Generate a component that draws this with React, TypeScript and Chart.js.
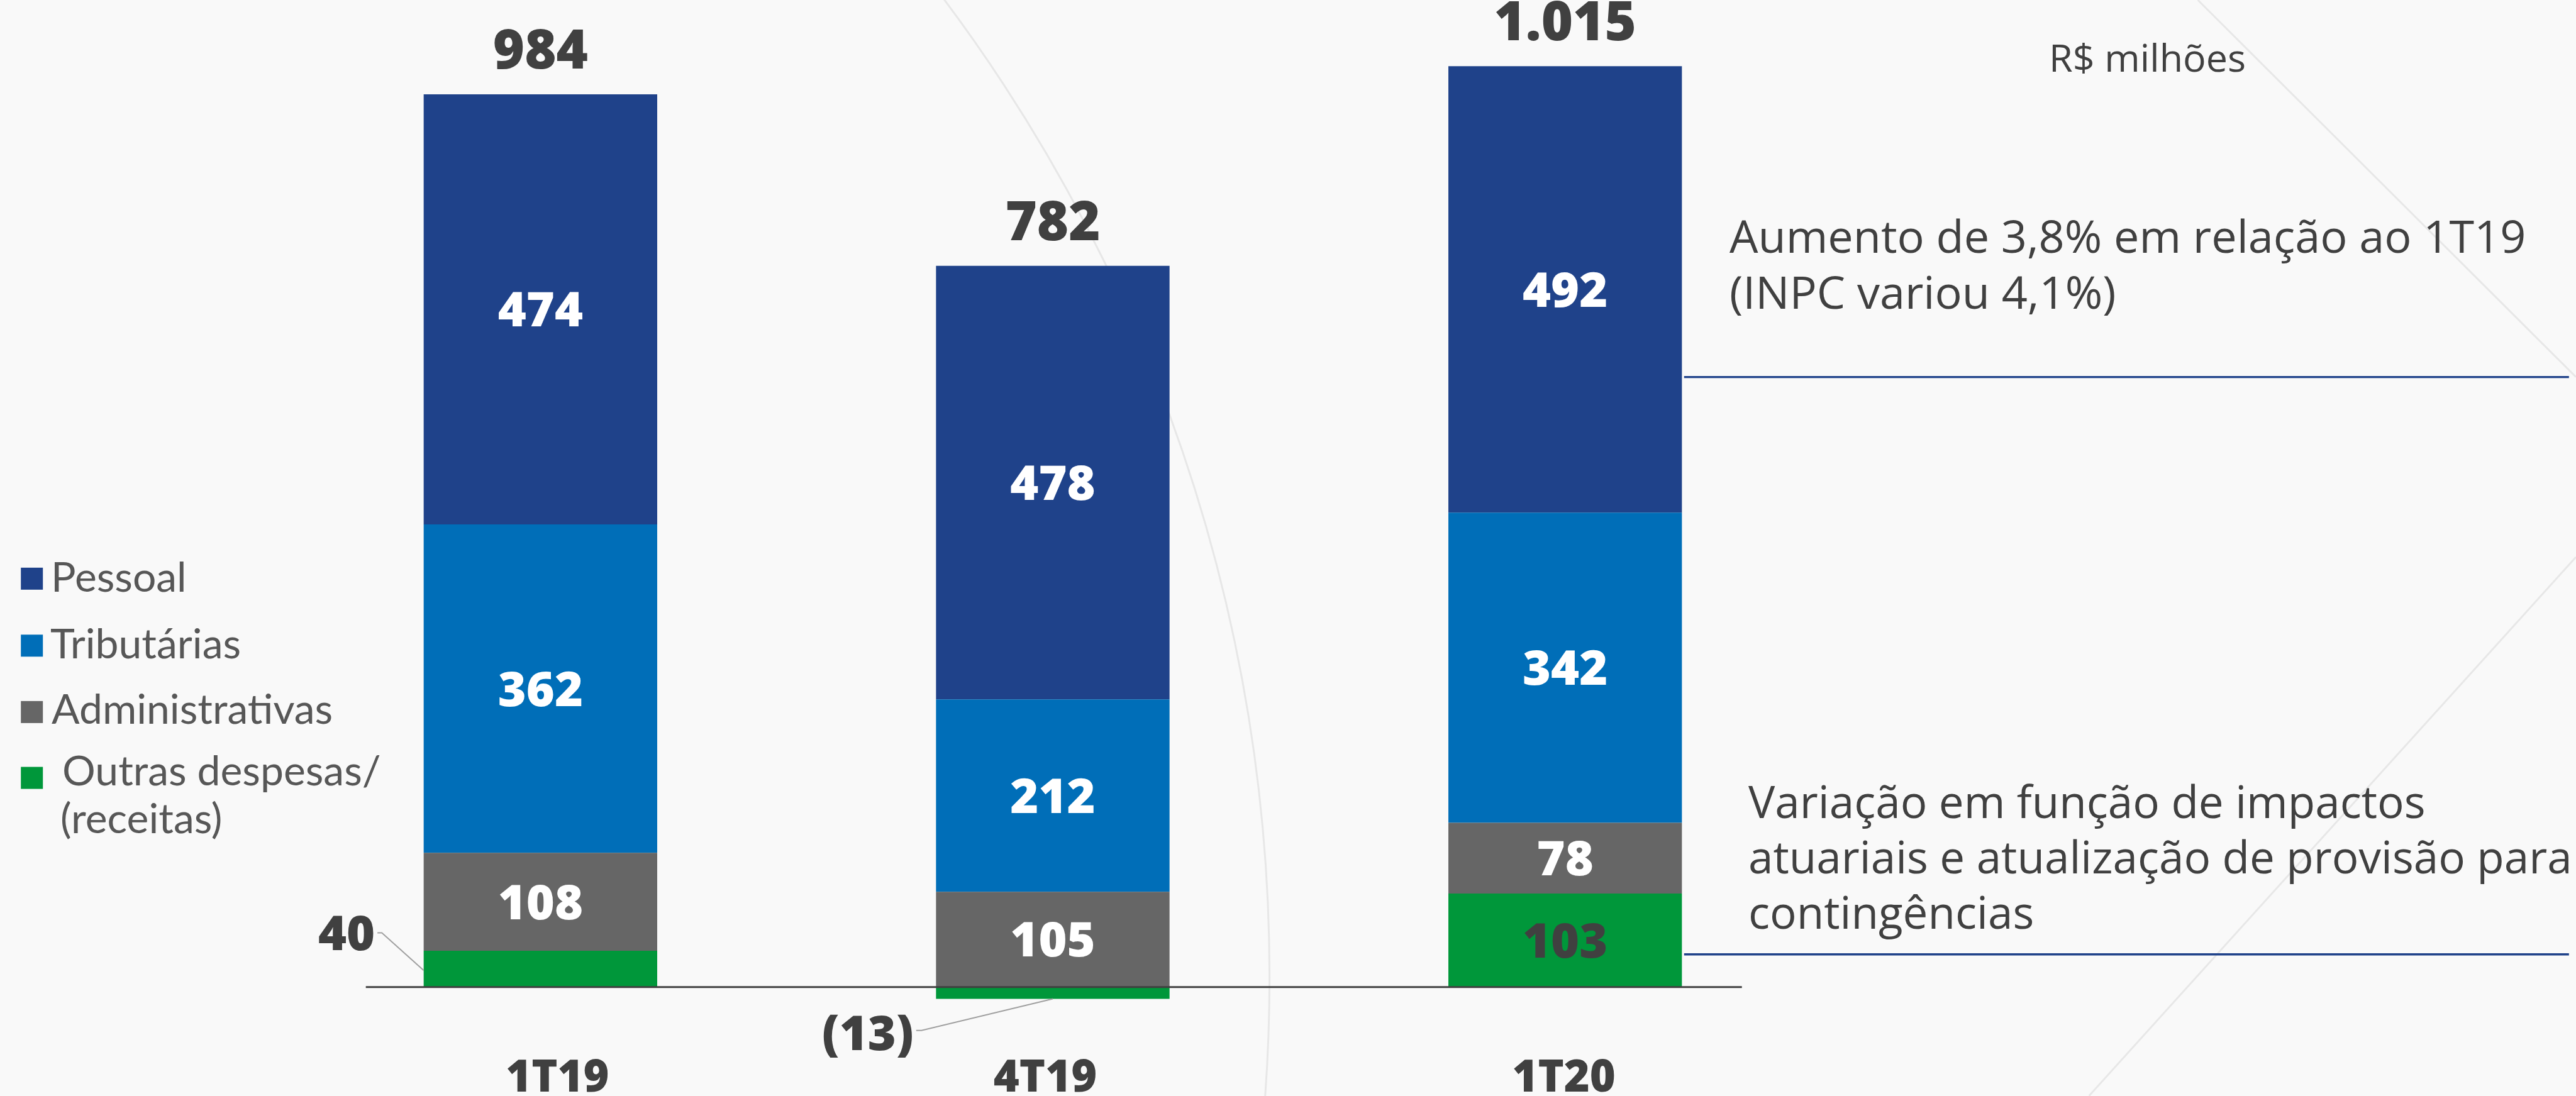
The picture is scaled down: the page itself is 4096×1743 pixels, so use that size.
import React, { useEffect, useRef } from "react";
import { Chart, registerables } from "chart.js";

Chart.register(...registerables);

// ---------- data ----------
const categories = ["1T19", "4T19", "1T20"];
const pessoal = [474, 478, 492];
const tributarias = [362, 212, 342];
const administrativas = [108, 105, 78];
const outras = [40, -13, 103];

const seriesNames = ["Outras despesas/ (receitas)", "Administrativas", "Tributárias", "Pessoal"];
const legendLines = [["Pessoal"], ["Tributárias"], ["Administrativas"], ["Outras despesas/", "(receitas)"]];
const unitLabel = "R$ milhões";
const note1 = ["Aumento de 3,8% em relação ao 1T19", "(INPC variou 4,1%)"];
const note2 = ["Variação em função de impactos", "atuariais e atualização de provisão para", "contingências"];

// ---------- styling ----------
const W = 4096;
const H = 1743;
const S = 4096 / 4809; // reference -> output
const NAVY = "#1F428A";
const BLUE = "#006EB8";
const GRAY = "#666666";
const GREEN = "#00973A";
const DARK = "#404040";
const BG = "#F9F9F9";
const BOLD = '"Open Sans", "Liberation Sans", Arial, sans-serif';
const CAT_LABEL_DX = [27, -12, -2]; // small horizontal nudges of category captions (px)

const fmt = (v: number) => {
  const s = String(Math.abs(v)).replace(/\B(?=(\d{3})+(?!\d))/g, ".");
  return v < 0 ? `(${s})` : s;
};

const backgroundPlugin = {
  id: "bgDeco",
  beforeDraw(chart: any) {
    const ctx = chart.ctx;
    ctx.save();
    ctx.fillStyle = BG;
    ctx.fillRect(0, 0, chart.width, chart.height);
    ctx.strokeStyle = "rgba(0,0,0,0.07)";
    ctx.lineWidth = 3;
    ctx.beginPath();
    ctx.arc(-675 * S, 1824 * S, 3045 * S, 0, Math.PI * 2);
    ctx.stroke();
    ctx.beginPath();
    ctx.moveTo(4103 * S, 0);
    ctx.lineTo(4809 * S, 704 * S);
    ctx.stroke();
    ctx.beginPath();
    ctx.moveTo(4809 * S, 1040 * S);
    ctx.lineTo(3900 * S, 2046 * S);
    ctx.stroke();
    ctx.restore();
  },
};

const labelsPlugin = {
  id: "labelsDeco",
  afterDatasetsDraw(chart: any) {
    const ctx = chart.ctx;
    const xs = chart.scales.x;
    const ys = chart.scales.y;
    ctx.save();

    // segment labels
    const segSize = 77;
    chart.data.datasets.forEach((ds: any, di: number) => {
      const meta = chart.getDatasetMeta(di);
      meta.data.forEach((bar: any, i: number) => {
        const v = ds.data[i] as number;
        const p = bar.getProps(["x", "y", "base", "width"], true);
        const h = Math.abs(p.base - p.y);
        const text = fmt(v);
        ctx.font = `800 ${segSize}px ${BOLD}`;
        if (h >= 80) {
          ctx.fillStyle = ds.labelColor;
          ctx.textAlign = "center";
          ctx.textBaseline = "alphabetic";
          const cy = (p.y + p.base) / 2;
          ctx.fillText(text, p.x, cy + segSize * 0.357);
        } else if (v > 0) {
          const ex = p.x - p.width / 2;
          const ey = p.y + 0.54 * h;
          const right = ex - 77.5;
          const cy = ey - 59.6;
          ctx.fillStyle = DARK;
          ctx.textAlign = "right";
          ctx.textBaseline = "alphabetic";
          ctx.fillText(text, right, cy + segSize * 0.357);
          ctx.strokeStyle = "#A0A0A0";
          ctx.lineWidth = 2;
          ctx.beginPath();
          ctx.moveTo(right + 4, cy);
          ctx.lineTo(right + 11, cy);
          ctx.lineTo(ex, ey);
          ctx.stroke();
        } else {
          const ex = p.x;
          const ey = p.y;
          const right = ex - 221.4;
          const cy = ey + 54.5;
          ctx.fillStyle = DARK;
          ctx.textAlign = "right";
          ctx.textBaseline = "alphabetic";
          ctx.fillText(text, right, cy + segSize * 0.357);
          ctx.strokeStyle = "#A0A0A0";
          ctx.lineWidth = 2;
          ctx.beginPath();
          ctx.moveTo(ex - 217.2, ey + 50.3);
          ctx.lineTo(ex - 208.7, ey + 50.3);
          ctx.lineTo(ex, ey);
          ctx.stroke();
        }
      });
    });

    // totals
    const totSize = 86;
    categories.forEach((c, i) => {
      const vals = chart.data.datasets.map((d: any) => d.data[i] as number);
      const total = vals.reduce((a: number, b: number) => a + b, 0);
      const pos = vals.filter((v: number) => v > 0).reduce((a: number, b: number) => a + b, 0);
      const top = ys.getPixelForValue(pos);
      const x = xs.getPixelForValue(i);
      ctx.font = `800 ${totSize}px ${BOLD}`;
      ctx.fillStyle = DARK;
      ctx.textAlign = "center";
      ctx.textBaseline = "alphabetic";
      ctx.fillText(fmt(total), x, top - 71.5 + totSize * 0.357);
      // category label
      ctx.font = `800 70px ${BOLD}`;
      ctx.fillText(c, x + CAT_LABEL_DX[i], 1736);
    });

    // zero baseline
    const y0 = ys.getPixelForValue(0);
    ctx.strokeStyle = DARK;
    ctx.lineWidth = 3;
    ctx.beginPath();
    ctx.moveTo(xs.getPixelForValue(-0.3408), y0);
    ctx.lineTo(xs.getPixelForValue(2.345), y0);
    ctx.stroke();

    // legend
    const legendTops = [902.8, 1009.3, 1114.9, 1219.6];
    const legendBase = [[941], [1046.7], [1150.7], [1249.4, 1325.2]];
    const legendX = [[81], [80], [82], [99, 96]];
    const dsOrder = [3, 2, 1, 0];
    ctx.font = `400 66px Lato, "Open Sans", sans-serif`;
    ctx.textAlign = "left";
    legendLines.forEach((lines, k) => {
      const ds = chart.data.datasets[dsOrder[k]];
      ctx.fillStyle = ds.backgroundColor;
      ctx.fillRect(33.2, legendTops[k], 35, 35);
      ctx.fillStyle = "#575757";
      lines.forEach((t, j) => ctx.fillText(t, legendX[k][j], legendBase[k][j]));
    });

    // right-side notes
    ctx.fillStyle = DARK;
    ctx.font = `400 61px "Open Sans", sans-serif`;
    ctx.fillText(unitLabel, 3258, 114);
    ctx.font = `400 72px "Open Sans", sans-serif`;
    const n1 = [402, 490.6];
    note1.forEach((t, j) => ctx.fillText(t, 2750, n1[j]));
    ctx.font = `400 71px "Open Sans", sans-serif`;
    const n2 = [1301.4, 1389.1, 1476.9];
    note2.forEach((t, j) => ctx.fillText(t, 2780, n2[j]));

    ctx.strokeStyle = NAVY;
    ctx.lineWidth = 3.4;
    [599.6, 1517.7].forEach((yy) => {
      ctx.beginPath();
      ctx.moveTo(2677.8, yy);
      ctx.lineTo(4084.8, yy);
      ctx.stroke();
    });

    ctx.restore();
  },
};

export default function App() {
  const ref = useRef<HTMLCanvasElement>(null);
  useEffect(() => {
    const canvas = ref.current!;
    const chart = new Chart(canvas, {
      type: "bar",
      data: {
        labels: categories,
        datasets: [
          { label: seriesNames[0], data: outras, backgroundColor: GREEN, labelColor: DARK } as any,
          { label: seriesNames[1], data: administrativas, backgroundColor: GRAY, labelColor: "#FFFFFF" } as any,
          { label: seriesNames[2], data: tributarias, backgroundColor: BLUE, labelColor: "#FFFFFF" } as any,
          { label: seriesNames[3], data: pessoal, backgroundColor: NAVY, labelColor: "#FFFFFF" } as any,
        ],
      },
      options: {
        responsive: false,
        animation: false,
        devicePixelRatio: 1,
        layout: { padding: { left: 452, right: 1200, top: 54.8, bottom: 29 } },
        datasets: { bar: { barPercentage: 0.4558, categoryPercentage: 1, borderWidth: 0 } },
        scales: {
          x: { stacked: true, display: false },
          y: { stacked: true, display: false, min: -100, max: 1050 },
        },
        plugins: { legend: { display: false }, tooltip: { enabled: false } },
      },
      plugins: [backgroundPlugin, labelsPlugin],
    });
    return () => chart.destroy();
  }, []);
  return (
    <div style={{ position: "fixed", left: 0, top: 0, width: W, height: H, background: BG }}>
      <canvas ref={ref} width={W} height={H} style={{ display: "block", width: W, height: H }} />
    </div>
  );
}
